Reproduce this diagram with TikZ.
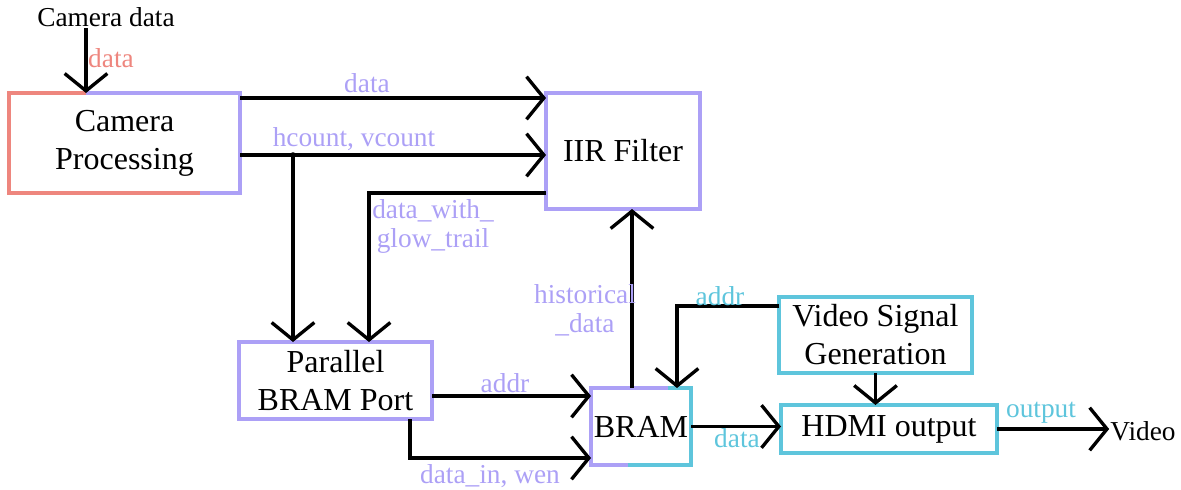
\documentclass[tikz,border=0pt]{standalone}
\usepackage{fontspec}
\setmainfont{Liberation Serif}
\usetikzlibrary{arrows.meta}
\definecolor{camred}{RGB}{238,134,126}
\definecolor{lilac}{RGB}{172,160,246}
\definecolor{vidcyan}{RGB}{94,197,220}

\begin{document}
\begin{tikzpicture}[x=0.75pt,y=0.75pt,yscale=-1,xscale=1,
  block/.style={draw=lilac,line width=2.8pt,align=center,inner sep=0pt,outer sep=0pt,
    font=\fontsize{24}{28.5}\selectfont},
  lbl/.style={inner sep=0.75pt,align=center,font=\fontsize{20.5}{21.75}\selectfont},
  wire/.style={line width=2.5pt,-{Straight Barb[length=13pt,width=32pt]}}]
\useasboundingbox (0,0) rectangle (1181,489);

% blocks
\node [block,minimum width=173.25pt,minimum height=75pt] (cam) at (124.5,143) {Camera\\Processing};
\node [block,minimum width=115.5pt,minimum height=87pt] (iir) at (623,151) {IIR Filter};
\node [block,minimum width=144.75pt,minimum height=57.75pt] (port) at (335.5,380.5) {Parallel\\BRAM Port};
\node [block,draw=vidcyan,minimum width=75pt,minimum height=57.75pt] (bram) at (641,426.5) {BRAM};
\node [block,draw=vidcyan,minimum width=144.75pt,minimum height=57pt] (vsg) at (875.5,335) {Video Signal\\Generation};
\node [block,draw=vidcyan,minimum width=162pt,minimum height=36pt] (hdmi) at (889,429) {HDMI output};

% two-coloured borders
\coordinate (camtap) at (86,28);
\draw [camred,line width=2.8pt] (camtap |- cam.north) -- (cam.north west) -- (cam.south west) -- (cam.south west -| 200,0);
\draw [lilac,line width=2.8pt] (bram.north west -| 668,0) -- (bram.north west) -- (bram.south west) -- (bram.south west -| 628,0);

% outer texts
\node [lbl] (camdata) at (106,17) {Camera data};
\node [lbl] (video) at (1143,431) {Video};

% connectors
\draw [wire] (camtap) -- (camtap |- cam.north);
\node [lbl,text=camred] at (111,58) {data};

\draw [wire] (cam.east |- 0,98) -- (iir.west |- 0,98);
\node [lbl,text=lilac] at (367,83) {data};

\coordinate (split) at (293,155);
\draw [wire] (cam.east |- split) -- (iir.west |- split);
\fill (split) circle (2.8);
\draw [wire] (split) -- (split |- port.north);
\node [lbl,text=lilac] at (354,139) {hcount, vcount};

\draw [wire] (iir.west |- 0,193) -| (port.north -| 369,0);
\node [lbl,text=lilac] at (433,226) {data\_with\_\\glow\_trail};

\draw [wire] (bram.north -| 632,0) -- (iir.south -| 632,0);
\node [lbl,text=lilac] at (585,310) {historical\\\_data};

\draw [wire] (vsg.west |- 0,306) -| (bram.north -| 677,0);
\node [lbl,text=vidcyan] at (720,296) {addr};

\draw [wire] (vsg.south) -- (vsg.south |- hdmi.north);

\draw [wire] (bram.east) -- (bram.east -| hdmi.west);
\node [lbl,text=vidcyan] at (737,438) {data};

\draw [wire] (port.east |- 0,396) -- (bram.west |- 0,396);
\node [lbl,text=lilac] at (505,383) {addr};

\draw [wire] (port.south -| 410,0) |- (bram.west |- 0,458);
\node [lbl,text=lilac] at (490,476) {data\_in, wen};

\draw [wire] (hdmi.east) -- (hdmi.east -| video.west);
\node [lbl,text=vidcyan] at (1041,413) {output};

\end{tikzpicture}
\end{document}
